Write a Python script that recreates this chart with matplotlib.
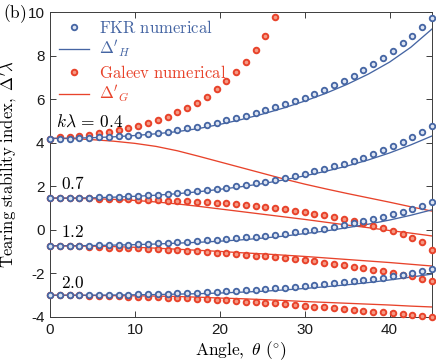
import matplotlib
matplotlib.use('Agg')
import matplotlib.pyplot as plt
from matplotlib.lines import Line2D

plt.rcParams['mathtext.fontset'] = 'cm'
plt.rcParams['axes.unicode_minus'] = False
plt.rcParams['font.family'] = ['Liberation Sans', 'DejaVu Sans']

# ---------------- data ----------------
theta_num = [0.00, 1.15, 2.31, 3.46, 4.62, 5.77, 6.92, 8.08, 9.23, 10.38,
             11.54, 12.69, 13.85, 15.00, 16.15, 17.31, 18.46, 19.62, 20.77, 21.92,
             23.08, 24.23, 25.38, 26.54, 27.69, 28.85, 30.00, 31.15, 32.31, 33.46,
             34.62, 35.77, 36.92, 38.08, 39.23, 40.38, 41.54, 42.69, 43.85, 45.00]
theta_line = [0, 2.5, 5, 7.5, 10, 12.5, 15, 17.5, 20, 22.5,
              25, 27.5, 30, 32.5, 35, 37.5, 40, 42.5, 45]

# FKR numerical (blue open circles)
fkr_04 = [4.19, 4.19, 4.19, 4.20, 4.21, 4.25, 4.27, 4.30, 4.33, 4.37,
          4.41, 4.46, 4.51, 4.58, 4.66, 4.73, 4.82, 4.92, 5.02, 5.13,
          5.24, 5.36, 5.49, 5.62, 5.76, 5.91, 6.07, 6.24, 6.43, 6.63,
          6.85, 7.07, 7.33, 7.62, 7.91, 8.22, 8.56, 8.92, 9.31, 9.73]
fkr_07 = [1.47, 1.46, 1.46, 1.47, 1.48, 1.49, 1.50, 1.52, 1.54, 1.56,
          1.59, 1.62, 1.65, 1.69, 1.73, 1.78, 1.83, 1.88, 1.94, 2.00,
          2.07, 2.14, 2.21, 2.29, 2.38, 2.48, 2.58, 2.68, 2.79, 2.91,
          3.03, 3.17, 3.31, 3.47, 3.65, 3.84, 4.04, 4.26, 4.50, 4.75]
fkr_12 = [-0.73, -0.73, -0.73, -0.72, -0.72, -0.71, -0.70, -0.69, -0.68, -0.66,
          -0.64, -0.62, -0.60, -0.57, -0.54, -0.51, -0.48, -0.45, -0.42, -0.38,
          -0.35, -0.31, -0.27, -0.22, -0.17, -0.12, -0.07, -0.01, 0.06, 0.13,
          0.21, 0.30, 0.39, 0.49, 0.60, 0.72, 0.84, 0.97, 1.11, 1.26]
fkr_20 = [-3.00, -3.00, -3.00, -3.00, -2.99, -2.99, -2.98, -2.98, -2.97, -2.96,
          -2.96, -2.95, -2.94, -2.92, -2.91, -2.89, -2.87, -2.85, -2.82, -2.80,
          -2.77, -2.74, -2.71, -2.68, -2.65, -2.62, -2.58, -2.54, -2.50, -2.46,
          -2.41, -2.36, -2.31, -2.25, -2.19, -2.13, -2.06, -1.99, -1.89, -1.78]

# Galeev numerical (red circles); k*lambda = 0.4 leaves the axes after 24 points
gal_04 = [4.19, 4.24, 4.28, 4.32, 4.37, 4.43, 4.51, 4.59, 4.68, 4.78,
          4.90, 5.04, 5.20, 5.39, 5.60, 5.84, 6.12, 6.46, 6.84, 7.24,
          7.70, 8.24, 8.92, 9.78]
gal_07 = [1.46, 1.46, 1.45, 1.45, 1.44, 1.43, 1.42, 1.41, 1.40, 1.39,
          1.38, 1.36, 1.34, 1.32, 1.31, 1.29, 1.27, 1.24, 1.21, 1.18,
          1.14, 1.10, 1.05, 1.00, 0.94, 0.88, 0.81, 0.75, 0.68, 0.60,
          0.51, 0.41, 0.31, 0.20, 0.08, -0.04, -0.18, -0.36, -0.58, -0.92]
gal_12 = [-0.73, -0.74, -0.75, -0.76, -0.78, -0.79, -0.81, -0.82, -0.84, -0.85,
          -0.87, -0.89, -0.91, -0.93, -0.95, -0.98, -1.01, -1.04, -1.07, -1.11,
          -1.14, -1.18, -1.22, -1.26, -1.30, -1.35, -1.40, -1.45, -1.51, -1.57,
          -1.63, -1.69, -1.75, -1.82, -1.89, -1.97, -2.05, -2.14, -2.24, -2.37]
gal_20 = [-3.00, -3.00, -3.01, -3.01, -3.02, -3.03, -3.04, -3.05, -3.06, -3.07,
          -3.08, -3.09, -3.11, -3.12, -3.14, -3.16, -3.18, -3.20, -3.23, -3.26,
          -3.29, -3.32, -3.35, -3.38, -3.42, -3.45, -3.48, -3.52, -3.56, -3.59,
          -3.63, -3.67, -3.71, -3.75, -3.79, -3.82, -3.86, -3.90, -3.94, -3.98]

# analytic curves
dH_04 = [4.20, 4.21, 4.23, 4.27, 4.33, 4.41, 4.51, 4.65, 4.84, 5.06,
         5.31, 5.59, 5.91, 6.27, 6.68, 7.15, 7.70, 8.38, 9.22]
dH_07 = [1.46, 1.46, 1.47, 1.50, 1.54, 1.59, 1.66, 1.75, 1.86, 1.98,
         2.12, 2.29, 2.48, 2.69, 2.93, 3.21, 3.53, 3.90, 4.31]
dH_12 = [-0.73, -0.73, -0.72, -0.70, -0.68, -0.65, -0.61, -0.57, -0.52, -0.46,
         -0.38, -0.29, -0.17, -0.05, 0.10, 0.26, 0.45, 0.67, 0.92]
dH_20 = [-3.00, -3.00, -3.00, -2.99, -2.98, -2.97, -2.95, -2.93, -2.90, -2.86,
         -2.82, -2.76, -2.69, -2.61, -2.52, -2.42, -2.30, -2.17, -2.03]

dG_04 = [4.20, 4.19, 4.14, 4.07, 3.97, 3.83, 3.63, 3.38, 3.12, 2.86,
         2.60, 2.34, 2.10, 1.88, 1.67, 1.47, 1.27, 1.06, 0.86]
dG_07 = [1.46, 1.45, 1.43, 1.40, 1.35, 1.28, 1.19, 1.08, 0.96, 0.84,
         0.72, 0.60, 0.48, 0.35, 0.22, 0.10, -0.03, -0.15, -0.28]
dG_12 = [-0.73, -0.74, -0.75, -0.77, -0.80, -0.84, -0.89, -0.94, -0.99, -1.05,
         -1.10, -1.16, -1.22, -1.29, -1.36, -1.43, -1.50, -1.58, -1.66]
dG_20 = [-3.00, -3.00, -3.01, -3.02, -3.03, -3.04, -3.06, -3.09, -3.13, -3.16,
         -3.20, -3.24, -3.29, -3.33, -3.37, -3.41, -3.45, -3.50, -3.54]

k_labels = [r'$k\lambda\,=\,0.4$', r'$0.7$', r'$1.2$', r'$2.0$']
k_label_pos = [(0.75, 4.95), (1.25, 2.12), (1.25, -0.12), (1.25, -2.46)]

x_ticks = [0, 10, 20, 30, 40]
y_ticks = [-4, -2, 0, 2, 4, 6, 8, 10]

# ---------------- style ----------------
BLUE = '#4565a3'
BLUE_FACE = '#dde4f2'
RED = '#e8432b'
RED_FACE = '#f59a85'
AX_COL = '#3c3c3c'
MS = 4.0

fig = plt.figure(figsize=(4.36, 3.63), dpi=100)
ax = fig.add_axes([50 / 436, 1 - 317 / 363, 382 / 436, 305 / 363])

for yl in [dG_04, dG_07, dG_12, dG_20]:
    ax.plot(theta_line, yl, color=RED, lw=0.95, zorder=2)
for yl in [dH_04, dH_07, dH_12, dH_20]:
    ax.plot(theta_line, yl, color=BLUE, lw=0.95, zorder=2)
for yv in [gal_04, gal_07, gal_12, gal_20]:
    ax.plot(theta_num[:len(yv)], yv, ls='none', marker='o', ms=MS, mew=1.4,
            mec=RED, mfc=RED_FACE, zorder=3, clip_on=False)
for yv in [fkr_04, fkr_07, fkr_12, fkr_20]:
    ax.plot(theta_num[:len(yv)], yv, ls='none', marker='o', ms=MS, mew=1.3,
            mec=BLUE, mfc=BLUE_FACE, zorder=4, clip_on=False)

for lab, (xp, yp) in zip(k_labels, k_label_pos):
    ax.text(xp, yp, lab, fontsize=12.5, ha='left', va='center', color='black')

ax.set_xlim(0, 45)
ax.set_ylim(-4, 10)
ax.set_xticks(x_ticks)
ax.set_yticks(y_ticks)
ax.tick_params(direction='in', top=True, right=True, length=4, width=0.7,
               colors=AX_COL, labelsize=11, labelcolor='#1a1a1a', pad=4)
for s in ax.spines.values():
    s.set_color(AX_COL)
    s.set_linewidth(0.7)

ax.set_xlabel(r"$\mathrm{Angle,}\ \theta\ (^{\circ})$", fontsize=12.5, labelpad=2)
ax.set_ylabel(r"$\mathrm{Tearing\ stability\ index,}\ \Delta'\lambda$", fontsize=12, labelpad=5)

fig.text(3 / 436, 1 - 14 / 363, r'$\mathrm{(b)}$', fontsize=12.5, ha='left', va='center')

handles = [
    Line2D([], [], ls='none', marker='o', ms=MS, mew=1.3, mec=BLUE, mfc=BLUE_FACE),
    Line2D([], [], color=BLUE, lw=0.95),
    Line2D([], [], ls='none', marker='o', ms=MS, mew=1.4, mec=RED, mfc=RED_FACE),
    Line2D([], [], color=RED, lw=0.95),
]
labels = [r'$\mathrm{FKR\ numerical}$', r"$\Delta'_H$",
          r'$\mathrm{Galeev\ numerical}$', r"$\Delta'_G$"]
leg = ax.legend(handles, labels, loc='upper left', bbox_to_anchor=(0.005, 1.0),
                frameon=False, fontsize=12, handlelength=1.85, handletextpad=0.55,
                labelspacing=0.2, borderaxespad=0.2, borderpad=0.2)
for t, c in zip(leg.get_texts(), [BLUE, BLUE, RED, RED]):
    t.set_color(c)

fig.savefig('out.png', dpi=100)
